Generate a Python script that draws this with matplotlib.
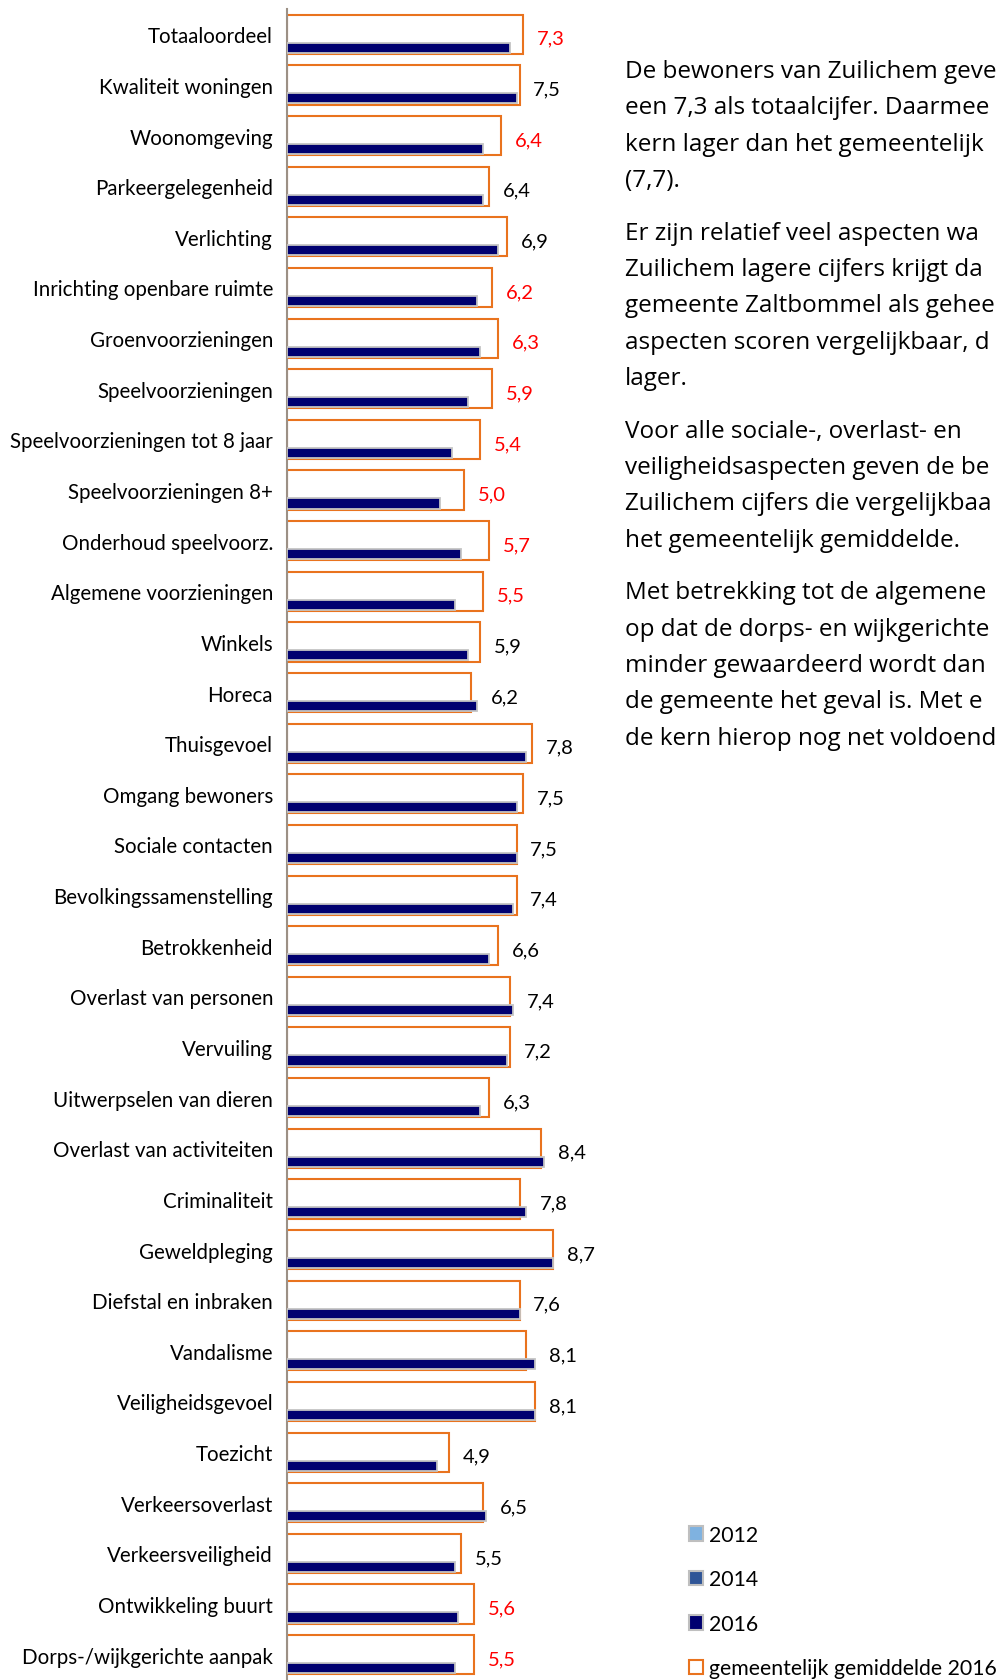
import matplotlib
matplotlib.use('Agg')
import matplotlib.pyplot as plt
from matplotlib.patches import Patch
import numpy as np

categories = [
    'Totaaloordeel', 'Kwaliteit woningen', 'Woonomgeving', 'Parkeergelegenheid',
    'Verlichting', 'Inrichting openbare ruimte', 'Groenvoorzieningen',
    'Speelvoorzieningen', 'Speelvoorzieningen tot 8 jaar', 'Speelvoorzieningen 8+',
    'Onderhoud speelvoorz.', 'Algemene voorzieningen', 'Winkels', 'Horeca',
    'Thuisgevoel', 'Omgang bewoners', 'Sociale contacten', 'Bevolkingssamenstelling',
    'Betrokkenheid', 'Overlast van personen', 'Vervuiling', 'Uitwerpselen van dieren',
    'Overlast van activiteiten', 'Criminaliteit', 'Geweldpleging',
    'Diefstal en inbraken', 'Vandalisme', 'Veiligheidsgevoel', 'Toezicht',
    'Verkeersoverlast', 'Verkeersveiligheid', 'Ontwikkeling buurt',
    'Dorps-/wijkgerichte aanpak',
]

score_2016 = [7.3, 7.5, 6.4, 6.4, 6.9, 6.2, 6.3, 5.9, 5.4, 5.0, 5.7, 5.5, 5.9, 6.2,
              7.8, 7.5, 7.5, 7.4, 6.6, 7.4, 7.2, 6.3, 8.4, 7.8, 8.7, 7.6, 8.1, 8.1,
              4.9, 6.5, 5.5, 5.6, 5.5]

gemeente_2016 = [7.7, 7.6, 7.0, 6.6, 7.2, 6.7, 6.9, 6.7, 6.3, 5.8, 6.6, 6.4, 6.3, 6.0,
                 8.0, 7.7, 7.5, 7.5, 6.9, 7.3, 7.3, 6.6, 8.3, 7.6, 8.7, 7.6, 7.8, 8.1,
                 5.3, 6.4, 5.7, 6.1, 6.1]

# significantly lower than the municipal average -> red label
lower = [1, 0, 1, 0, 0, 1, 1, 1, 1, 1, 1, 1, 0, 0, 0, 0, 0, 0, 0, 0, 0, 0, 0, 0,
         0, 0, 0, 0, 0, 0, 0, 1, 1]

legend_labels = ['2012', '2014', '2016', 'gemeentelijk gemiddelde 2016']

text_paragraphs = [
    ['De bewoners van Zuilichem geve',
     'een 7,3 als totaalcijfer. Daarmee',
     'kern lager dan het gemeentelijk',
     '(7,7).'],
    ['Er zijn relatief veel aspecten wa',
     'Zuilichem lagere cijfers krijgt da',
     'gemeente Zaltbommel als gehee',
     'aspecten scoren vergelijkbaar, d',
     'lager.'],
    ['Voor alle sociale-, overlast- en',
     'veiligheidsaspecten geven de be',
     'Zuilichem cijfers die vergelijkbaa',
     'het gemeentelijk gemiddelde.'],
    ['Met betrekking tot de algemene',
     'op dat de dorps- en wijkgerichte',
     'minder gewaardeerd wordt dan',
     'de gemeente het geval is. Met e',
     'de kern hierop nog net voldoend'],
]

W, H = 1001, 1681
fig = plt.figure(figsize=(W / 100, H / 100), dpi=100)
plt.rcParams['font.family'] = ['Lato', 'DejaVu Sans']

ax = fig.add_axes([287 / W, 0, 306 / W, 1 - 10 / H])

y = np.arange(len(categories))
orange = '#E9731E'
navy = '#000070'

ax.barh(y, gemeente_2016, height=0.775, facecolor='white', edgecolor=orange,
        linewidth=1.5, zorder=2)
ax.barh(y + 0.266, score_2016, height=0.2, color=navy, edgecolor='#C4C4C4',
        linewidth=1.3, zorder=3)

for i in range(len(categories)):
    x = max(score_2016[i], gemeente_2016[i]) + 0.45
    ax.text(x, y[i] + 0.08, f'{score_2016[i]:.1f}'.replace('.', ','),
            ha='left', va='center', fontsize=14.5,
            color='#FF0000' if lower[i] else 'black')

ax.set_xlim(0, 10)
ax.set_ylim(len(categories) - 0.5, -0.5)
ax.set_yticks(y)
ax.set_yticklabels(categories, fontsize=14.8)
ax.tick_params(axis='y', length=0, pad=10)
ax.set_xticks([])
for side in ['top', 'right', 'bottom']:
    ax.spines[side].set_visible(False)
ax.spines['left'].set_color('#9C9085')
ax.spines['left'].set_linewidth(1.5)
ax.patch.set_alpha(0)

# text column on the right (cut off by the page edge in the original)
ypos = 72
for para in text_paragraphs:
    for line in para:
        fig.text(625 / W, 1 - ypos / H, line, ha='left', va='center',
                 fontsize=17.5, family='Open Sans', color='black')
        ypos += 36.4
    ypos += 16

handles = [
    Patch(facecolor='#7FB2E0', edgecolor='#BFBFBF', linewidth=1.5),
    Patch(facecolor='#2F5597', edgecolor='#BFBFBF', linewidth=1.5),
    Patch(facecolor=navy, edgecolor='#BFBFBF', linewidth=1.5),
    Patch(facecolor='white', edgecolor=orange, linewidth=1.5),
]
fig.legend(handles, legend_labels, loc='upper left',
           bbox_to_anchor=(689 / W, 1 - 1526 / H), frameon=False,
           fontsize=15.3, handlelength=0.65, handleheight=0.65, handletextpad=0.3,
           labelspacing=1.15, borderpad=0, borderaxespad=0)

fig.savefig('out.png', dpi=100)
